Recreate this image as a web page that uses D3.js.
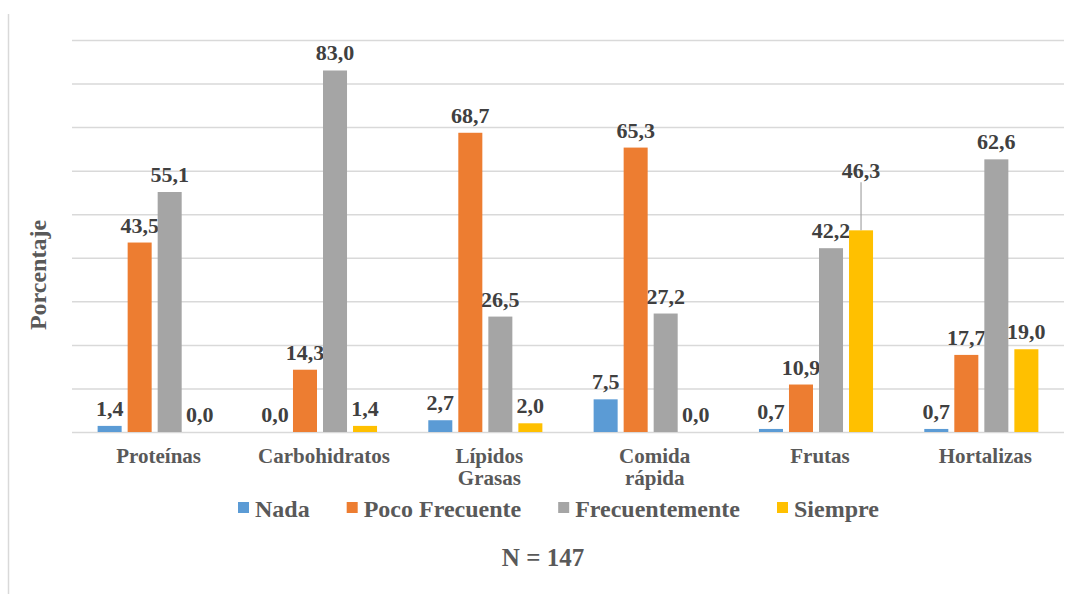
<!DOCTYPE html>
<html>
<head>
<meta charset="utf-8">
<script src="https://cdn.jsdelivr.net/npm/d3@7"></script>
<style>
  html, body { margin: 0; padding: 0; background: #fff; }
  svg { display: block; font-family: "Liberation Serif", "Times New Roman", serif; font-weight: bold; }
</style>
</head>
<body>
<svg id="chart" width="1078" height="594"></svg>
<script>
// Food groups (x categories) and consumption-frequency series (percent)
const categories = ["Proteínas", "Carbohidratos", "Lípidos\nGrasas", "Comida\nrápida", "Frutas", "Hortalizas"];
const seriesNames = ["Nada", "Poco Frecuente", "Frecuentemente", "Siempre"];
const nada           = [1.4, 0.0, 2.7, 7.5, 0.7, 0.7];
const pocoFrecuente  = [43.5, 14.3, 68.7, 65.3, 10.9, 17.7];
const frecuentemente = [55.1, 83.0, 26.5, 27.2, 42.2, 62.6];
const siempre        = [0.0, 1.4, 2.0, 0.0, 46.3, 19.0];
const yTicks = [0, 10, 20, 30, 40, 50, 60, 70, 80, 90];
const sampleNote = "N = 147";
const yTitle = "Porcentaje";

const seriesValues = [nada, pocoFrecuente, frecuentemente, siempre];
const colors = ["#5B9BD5", "#ED7D31", "#A5A5A5", "#FFC000"];

const fmt = v => v.toFixed(1).replace(".", ",");

const svg = d3.select("#chart");
const W = 1078, H = 594;

// Plot area
const plot = { left: 72, right: 1064, top: 40, bottom: 432 };

const x0 = d3.scaleBand()
  .domain(d3.range(categories.length))
  .range([plot.left, plot.right])
  .paddingInner(0.31)
  .paddingOuter(0.155);

const x1 = d3.scaleBand()
  .domain(d3.range(seriesNames.length))
  .range([0, x0.bandwidth()])
  .paddingInner(0.2);

const y = d3.scaleLinear().domain([0, 90]).range([plot.bottom, plot.top]);

// Left frame edge
svg.append("line")
  .attr("x1", 8.5).attr("x2", 8.5).attr("y1", 14).attr("y2", H)
  .attr("stroke", "#D9D9D9").attr("stroke-width", 1.5);

// Horizontal gridlines
const yAxis = d3.axisLeft(y).tickValues(yTicks).tickSize(-(plot.right - plot.left)).tickFormat("");
const gAxis = svg.append("g").attr("transform", `translate(${plot.left},0)`).call(yAxis);
gAxis.select(".domain").remove();
gAxis.selectAll(".tick line").attr("stroke", "#D9D9D9").attr("stroke-width", 1.5);

// Bars
const groups = svg.append("g").selectAll("g")
  .data(categories.map((c, i) => ({ c, i })))
  .join("g")
  .attr("transform", d => `translate(${x0(d.i)},0)`);

const cells = groups.selectAll("g.cell")
  .data(d => seriesValues.map((vals, s) => ({ s, ci: d.i, v: vals[d.i] })))
  .join("g").attr("class", "cell");

cells.append("rect")
  .attr("x", d => x1(d.s))
  .attr("width", x1.bandwidth())
  .attr("y", d => y(d.v))
  .attr("height", d => y(0) - y(d.v))
  .attr("fill", d => colors[d.s]);

// Data labels; the Frutas / Siempre label is raised with a leader line
const raisedLabels = { "4-3": 42 };
cells.each(function (d) {
  const g = d3.select(this);
  const cx = x1(d.s) + x1.bandwidth() / 2;
  const lift = raisedLabels[`${d.ci}-${d.s}`] || 0;
  const baseY = y(d.v) - 10 - lift;
  if (lift) {
    g.append("line")
      .attr("x1", cx).attr("x2", cx)
      .attr("y1", baseY + 4).attr("y2", y(d.v))
      .attr("stroke", "#A5A5A5").attr("stroke-width", 1.2);
  }
  g.append("text")
    .attr("x", cx).attr("y", baseY)
    .attr("text-anchor", "middle")
    .attr("font-size", 22)
    .attr("fill", "#404040")
    .text(fmt(d.v));
});

// Category labels
const catG = svg.append("g");
categories.forEach((c, i) => {
  const t = catG.append("text")
    .attr("text-anchor", "middle")
    .attr("font-size", 21)
    .attr("fill", "#595959");
  c.split("\n").forEach((line, k) => {
    t.append("tspan")
      .attr("x", x0(i) + x0.bandwidth() / 2 + 4)
      .attr("y", 463 + k * 22)
      .text(line);
  });
});

// Y axis title
svg.append("text")
  .attr("transform", "translate(46,275) rotate(-90)")
  .attr("text-anchor", "middle")
  .attr("font-size", 24)
  .attr("fill", "#595959")
  .text(yTitle);

// Legend
const legend = svg.append("g");
let lx = 238;
seriesNames.forEach((name, s) => {
  legend.append("rect")
    .attr("x", lx).attr("y", 502)
    .attr("width", 11).attr("height", 11)
    .attr("fill", colors[s]);
  const t = legend.append("text")
    .attr("x", lx + 17).attr("y", 517)
    .attr("font-size", 24)
    .attr("fill", "#595959")
    .text(name);
  lx += 17 + t.node().getComputedTextLength() + 37;
});

// Sample size note
svg.append("text")
  .attr("x", 543).attr("y", 566)
  .attr("text-anchor", "middle")
  .attr("font-size", 25)
  .attr("fill", "#595959")
  .text(sampleNote);
</script>
</body>
</html>
